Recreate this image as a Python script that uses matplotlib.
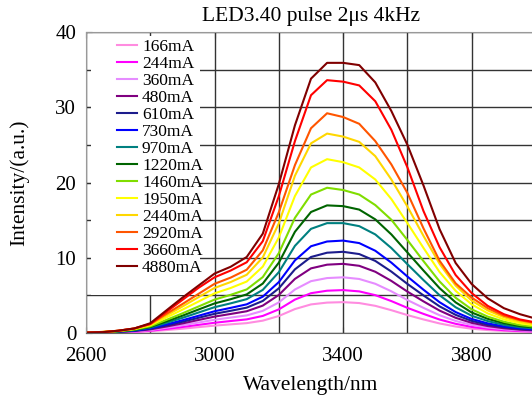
import matplotlib
matplotlib.use("Agg")
import matplotlib.pyplot as plt
from matplotlib.patches import Rectangle

plt.rcParams['font.family'] = ['Liberation Serif', 'DejaVu Serif']

# ---------------- DATA ---------------- #
wavelength = [2600, 2650, 2700, 2750, 2800, 2850, 2900, 2950, 3000, 3050,
              3100, 3150, 3200, 3250, 3300, 3350, 3400, 3450, 3500, 3550,
              3600, 3650, 3700, 3750, 3800, 3850, 3900, 3950, 4000]

labels = ["166mA", "244mA", "360mA", "480mA", "610mA", "730mA", "970mA",
          "1220mA", "1460mA", "1950mA", "2440mA", "2920mA", "3660mA", "4880mA"]

colors = ["#ff8ce0", "#ff00ff", "#e68cff", "#800080", "#1c1c8c", "#0000ff",
          "#008080", "#006400", "#80dd00", "#ffff00", "#ffd700", "#ff5500",
          "#ff0000", "#800000"]

i166 = [0.02, 0.03, 0.07, 0.12, 0.23, 0.39, 0.57, 0.78, 0.98, 1.15, 1.31, 1.64, 2.26, 3.18, 3.80,
        4.04, 4.10, 3.98, 3.61, 3.03, 2.38, 1.80, 1.27, 0.86, 0.57, 0.39, 0.27, 0.18, 0.14]
i244 = [0.02, 0.04, 0.09, 0.17, 0.31, 0.54, 0.80, 1.08, 1.36, 1.59, 1.81, 2.27, 3.14, 4.44, 5.29,
        5.62, 5.70, 5.53, 5.03, 4.24, 3.34, 2.54, 1.79, 1.22, 0.81, 0.55, 0.38, 0.26, 0.20]
i360 = [0.03, 0.06, 0.11, 0.21, 0.39, 0.70, 1.03, 1.39, 1.76, 2.05, 2.34, 2.94, 4.07, 5.78, 6.89,
        7.30, 7.40, 7.18, 6.54, 5.54, 4.38, 3.34, 2.36, 1.60, 1.07, 0.73, 0.50, 0.35, 0.27]
i480 = [0.03, 0.07, 0.14, 0.26, 0.48, 0.86, 1.27, 1.73, 2.18, 2.53, 2.89, 3.64, 5.06, 7.19, 8.59,
        9.08, 9.19, 8.93, 8.14, 6.92, 5.50, 4.20, 2.98, 2.02, 1.35, 0.92, 0.63, 0.44, 0.34]
i610 = [0.04, 0.08, 0.16, 0.30, 0.56, 1.00, 1.49, 2.02, 2.55, 2.95, 3.37, 4.26, 5.94, 8.46, 10.10,
        10.67, 10.79, 10.49, 9.58, 8.16, 6.52, 4.99, 3.54, 2.41, 1.61, 1.10, 0.76, 0.53, 0.41]
i730 = [0.04, 0.09, 0.18, 0.33, 0.62, 1.14, 1.69, 2.29, 2.89, 3.34, 3.81, 4.83, 6.77, 9.65, 11.53,
        12.16, 12.28, 11.95, 10.93, 9.35, 7.50, 5.75, 4.09, 2.78, 1.86, 1.28, 0.88, 0.62, 0.48]
i970 = [0.05, 0.10, 0.20, 0.38, 0.72, 1.35, 2.01, 2.72, 3.43, 3.94, 4.50, 5.73, 8.09, 11.58, 13.84,
        14.6, 14.6, 14.2, 13.1, 11.29, 9.14, 7.03, 5.02, 3.42, 2.29, 1.58, 1.08, 0.76, 0.59]
i1220 = [0.05, 0.11, 0.22, 0.42, 0.80, 1.54, 2.30, 3.12, 3.93, 4.49, 5.13, 6.57, 9.35, 13.45, 16.08,
         16.96, 16.86, 16.4, 15.1, 13.1, 10.7, 8.3, 5.96, 4.07, 2.72, 1.88, 1.30, 0.92, 0.71]
i1460 = [0.06, 0.12, 0.24, 0.46, 0.89, 1.74, 2.61, 3.52, 4.44, 5.07, 5.79, 7.43, 10.62, 15.3, 18.4,
         19.3, 19.0, 18.4, 17.0, 15.05, 12.35, 9.55, 6.85, 4.68, 3.14, 2.17, 1.50, 1.06, 0.82]
i1950 = [0.06, 0.13, 0.27, 0.53, 1.02, 2.06, 3.10, 4.18, 5.27, 5.98, 6.84, 8.82, 12.71, 18.2, 22.0,
         23.1, 22.7, 22.0, 20.4, 17.8, 14.6, 11.3, 8.1, 5.6, 3.8, 2.6, 1.8, 1.3, 1.0]
i2440 = [0.07, 0.14, 0.29, 0.57, 1.12, 2.33, 3.52, 4.76, 5.99, 6.77, 7.74, 10.04, 14.58, 20.9, 25.2,
         26.5, 26.1, 25.4, 23.5, 20.4, 16.8, 12.9, 9.2, 6.3, 4.3, 3.0, 2.1, 1.5, 1.15]
i2920 = [0.07, 0.14, 0.30, 0.60, 1.19, 2.54, 3.85, 5.20, 6.54, 7.36, 8.41, 10.98, 16.06, 22.31, 27.21,
         29.2, 28.7, 27.8, 25.5, 22.4, 18.6, 13.9, 9.6, 6.6, 4.7, 3.3, 2.3, 1.7, 1.3]
i3660 = [0.05, 0.10, 0.30, 0.60, 1.20, 2.80, 4.40, 6.00, 7.40, 8.30, 9.40, 12.2, 18.2, 25.5, 31.6,
         33.6, 33.4, 32.9, 30.8, 27.0, 22.0, 16.2, 11.4, 7.7, 5.3, 3.6, 2.5, 1.8, 1.4]
i4880 = [0.05, 0.10, 0.30, 0.60, 1.30, 3.00, 4.70, 6.30, 7.90, 8.80, 10.1, 13.2, 19.8, 27.6, 33.8,
         35.9, 35.9, 35.6, 33.3, 29.5, 25.0, 19.6, 13.8, 9.3, 6.5, 4.6, 3.3, 2.5, 1.9]

series = [i166, i244, i360, i480, i610, i730, i970,
          i1220, i1460, i1950, i2440, i2920, i3660, i4880]

# ---------------- PLOT ---------------- #
fig = plt.figure(figsize=(5.32, 3.97), dpi=100)
ax = fig.add_axes([86 / 532, 64 / 397, 450 / 532, 301 / 397])

for vals, lab, col in zip(series, labels, colors):
    ax.plot(wavelength, vals, color=col, lw=1.5, label=lab, zorder=2)

ax.set_xlim(2600, 4000)
ax.set_ylim(0, 40)
ax.set_xticks([2600, 3000, 3400, 3800])
ax.set_xticks(range(2600, 4001, 200), minor=True)
ax.set_yticks([0, 10, 20, 30, 40])
ax.set_yticks(range(0, 41, 5), minor=True)
ax.grid(True, which='both', color='#333333', lw=1.0)
ax.set_axisbelow(True)

ax.tick_params(which='both', direction='in', length=4, top=True, right=False,
               labelsize=15, color='#333333')
ax.tick_params(axis='x', pad=10)
ax.tick_params(axis='y', pad=7)

for side in ['left', 'top']:
    ax.spines[side].set_color('#999999')
ax.spines['bottom'].set_color('#666666')
ax.spines['right'].set_visible(False)

ax.set_title("LED3.40 pulse 2μs 4kHz", fontsize=15.5, pad=8)
ax.set_xlabel("Wavelength/nm", fontsize=15.5, labelpad=7)
ax.set_ylabel("Intensity/(a.u.)", fontsize=15.5, labelpad=19)

# white block behind the legend hides the grid there
ax.add_patch(Rectangle((0.012, 5.1), 0.241, 34.4, transform=ax.get_yaxis_transform(),
                       facecolor='white', edgecolor='none', zorder=1.5))

leg = ax.legend(loc='upper left', bbox_to_anchor=(0.053, 1.0), fontsize=12.5,
                frameon=False, handlelength=1.15, handletextpad=0.3,
                labelspacing=0.05, borderpad=0.4, borderaxespad=0.0)
leg.set_zorder(5)

fig.savefig("out.png", dpi=100)
